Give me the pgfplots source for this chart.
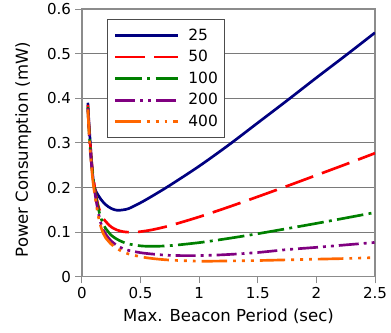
\documentclass[border=0pt]{standalone}
\usepackage{fontspec}
\setmainfont{DejaVu Sans}
\usepackage{pgfplots}
\pgfplotsset{compat=1.18}
\definecolor{cnavy}{HTML}{000080}
\definecolor{cred}{HTML}{FF0000}
\definecolor{cgreen}{HTML}{008000}
\definecolor{cpurple}{HTML}{800080}
\definecolor{corange}{HTML}{FF6600}
\definecolor{cframe}{HTML}{8C8C8C}
\definecolor{cgrid}{HTML}{7A7A7A}
\begin{document}
\begin{tikzpicture}
\begin{axis}[name=ax,
  scale only axis, width=219.75pt, height=200.85pt,
  xmin=0, xmax=2.5, ymin=0, ymax=0.6,
  xtick={0,0.5,1,1.5,2,2.5}, xticklabels={0,0.5,1,1.5,2,2.5},
  ytick={0,0.1,0.2,0.3,0.4,0.5,0.6}, yticklabels={0,0.1,0.2,0.3,0.4,0.5,0.6},
  tick align=outside, tick pos=left, major tick length=5pt,
  tick style={draw=cframe, line width=0.75pt},
  axis line style={draw=cframe, line width=0.9pt},
  ymajorgrids, major grid style={draw=cgrid, line width=0.75pt},
  ticklabel style={font=\fontsize{11.3}{13}\selectfont},
  yticklabel style={anchor=east, inner sep=0pt, xshift=-3pt},
  xticklabel style={anchor=base, inner sep=0pt, yshift=-10.9pt},
  label style={font=\fontsize{12.4}{14}\selectfont},
  xlabel={Max. Beacon Period (sec)},
  ylabel={Power Consumption (mW)},
  xlabel style={at={([yshift=-33.7pt]axis description cs:0.5,0)}, anchor=base},
  ylabel style={at={([xshift=-44pt,yshift=-5pt]axis description cs:0,0.5)}, anchor=center},
  legend style={at={(rel axis cs:0.0853,0.9615)}, anchor=north west,
    draw=black!70, line width=0.75pt, fill=white,
    inner xsep=4.9pt, inner ysep=6.6pt, row sep=6.1pt, column sep=6.75pt,
    font=\fontsize{11.6}{13}\selectfont, nodes={inner sep=0pt}},
  legend cell align=left,
  legend image code/.code={\draw[#1] (0pt,0pt) -- (47pt,0pt);},
  every axis plot/.append style={line width=2pt, no markers, smooth},
]
\addplot[color=cnavy, solid] coordinates {
(0.05,0.390) (0.06,0.342) (0.07,0.303) (0.08,0.264) (0.09,0.232) (0.10,0.210)
(0.11,0.198) (0.12,0.191) (0.14,0.182) (0.16,0.174) (0.2,0.162) (0.25,0.153)
(0.3,0.149) (0.35,0.150) (0.4,0.153) (0.5,0.166) (0.6,0.181) (0.75,0.205)
(1.0,0.248) (1.25,0.295) (1.5,0.345) (1.75,0.395) (2.0,0.446) (2.25,0.496) (2.5,0.547)};
\addlegendentry{25}
\addplot[color=cred, dash pattern=on 22pt off 7pt] coordinates {
(0.05,0.385) (0.06,0.337) (0.07,0.298) (0.08,0.265) (0.09,0.238) (0.10,0.216)
(0.11,0.198) (0.12,0.182) (0.14,0.158) (0.16,0.142) (0.18,0.131) (0.2,0.1245)
(0.25,0.1116) (0.3,0.1047) (0.35,0.1012) (0.4,0.0999) (0.45,0.100) (0.5,0.1012)
(0.6,0.1054) (0.75,0.1147) (1.0,0.1343) (1.25,0.1563) (1.5,0.1795) (1.75,0.2033)
(2.0,0.2276) (2.25,0.252) (2.5,0.277)};
\addlegendentry{50}
\addplot[color=cgreen, dash pattern=on 20pt off 4pt on 2.2pt off 4pt] coordinates {
(0.05,0.380) (0.06,0.328) (0.07,0.290) (0.08,0.258) (0.09,0.232) (0.10,0.211)
(0.11,0.193) (0.12,0.178) (0.14,0.152) (0.16,0.133) (0.18,0.119) (0.2,0.109)
(0.25,0.093) (0.3,0.084) (0.35,0.0777) (0.4,0.0735) (0.5,0.0693) (0.6,0.0683)
(0.75,0.0698) (1.0,0.0766) (1.25,0.086) (1.5,0.0966) (1.75,0.108) (2.0,0.1197)
(2.25,0.1318) (2.5,0.1441)};
\addlegendentry{100}
\addplot[color=cpurple, dash pattern=on 15pt off 3.75pt on 2.2pt off 3.75pt on 2.2pt off 3.75pt] coordinates {
(0.05,0.378) (0.06,0.326) (0.07,0.287) (0.08,0.255) (0.09,0.228) (0.10,0.206)
(0.11,0.189) (0.12,0.172) (0.14,0.143) (0.16,0.121) (0.18,0.106) (0.2,0.096)
(0.25,0.080) (0.3,0.070) (0.35,0.063) (0.4,0.059) (0.5,0.054) (0.6,0.051)
(0.75,0.048) (1.0,0.0475) (1.25,0.050) (1.5,0.0545) (1.75,0.061) (2.0,0.066)
(2.25,0.0715) (2.5,0.077)};
\addlegendentry{200}
\addplot[color=corange, dash pattern=on 19pt off 4.5pt on 2.2pt off 4.5pt on 2.2pt off 4.5pt on 2.2pt off 4.5pt] coordinates {
(0.05,0.375) (0.06,0.323) (0.07,0.283) (0.08,0.250) (0.09,0.222) (0.10,0.200)
(0.11,0.183) (0.12,0.165) (0.14,0.135) (0.16,0.113) (0.18,0.098) (0.2,0.088)
(0.25,0.073) (0.3,0.063) (0.35,0.056) (0.4,0.051) (0.5,0.045) (0.6,0.041)
(0.75,0.0375) (1.0,0.035) (1.25,0.0355) (1.5,0.0365) (1.75,0.038) (2.0,0.0395)
(2.25,0.041) (2.5,0.043)};
\addlegendentry{400}
\end{axis}
\pgfresetboundingbox
\path ([xshift=-61.5pt,yshift=-41.4pt]ax.south west) rectangle ([xshift=12pt,yshift=6.75pt]ax.north east);
\end{tikzpicture}
\end{document}
